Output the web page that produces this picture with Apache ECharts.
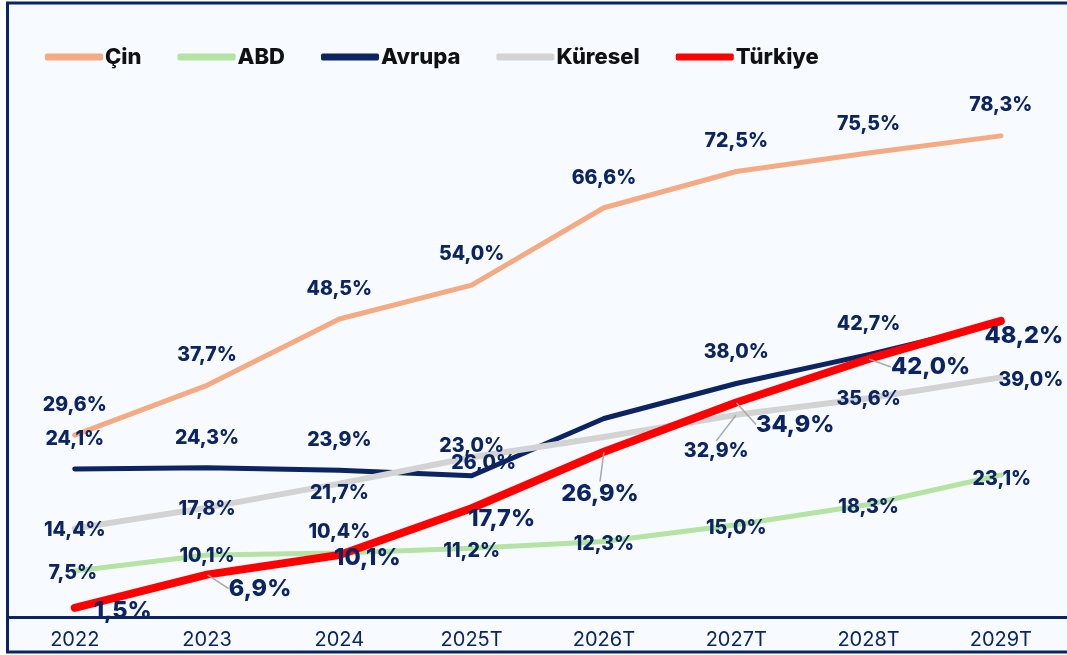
<!DOCTYPE html>
<html>
<head>
<meta charset="utf-8">
<script src="https://cdn.jsdelivr.net/npm/echarts@6/dist/echarts.min.js"></script>
<style>
	html, body { margin: 0; padding: 0; background: #ffffff; }
	#chart { width: 1067px; height: 655px; }
</style>
</head>
<body>
<div id="chart"></div>
<script>
var years = ['2022', '2023', '2024', '2025T', '2026T', '2027T', '2028T', '2029T'];

var cin = [29.6, 37.7, 48.5, 54.0, 66.6, 72.5, 75.5, 78.3];
var abd = [7.5, 10.1, 10.4, 11.2, 12.3, 15.0, 18.3, 23.1];
var avrupa = [24.1, 24.3, 23.9, 23.0, 32.3, 38.0, 42.7, 47.9];
var kuresel = [14.4, 17.8, 21.7, 26.0, 29.3, 32.9, 35.6, 39.0];
var turkiye = [1.5, 6.9, 10.1, 17.7, 26.9, 34.9, 42.0, 48.2];

// label nudges (dx, dy) per point, null = label hidden
var cinLabelPos = [[0, -30], [0, -30], [0, -30], [0, -31], [0, -30], [0, -30], [0, -29], [0, -31]];
var abdLabelPos = [[-2, 2], [0, 1], [0, -21], [0, 3], [0, 3], [0, 3], [0, 3], [1, 4]];
var avrupaLabelPos = [[0, -30], [0, -30], [0, -30], [0, -30], null, [0, -31], [0, -30], null];
var kureselLabelPos = [[0, 2], [0, 2], [0, 9], [12, 6], null, [-20, 36], [0, 1], [30, 3]];
var turkiyeLabelPos = [[48, 3], [53, 14], [28, 3], [30, 11], [-4, 42], [59, 22], [62, 8], [23, 15]];
var turkiyeLeader = [false, true, false, false, true, true, true, false];
var kureselLeader = [false, false, false, false, false, true, false, false];

var navy = '#0c2461';
var fontFamily = 'Inter, "Noto Sans", sans-serif';

var fmt = function (v) {
	return v.toFixed(1).replace('.', ',') + '%';
};

var buildData = function (values, labelPos, leader) {
	return values.map(function (v, i) {
		var item = { value: v };
		if (!labelPos[i]) {
			item.label = { show: false };
		}
		if (leader && leader[i]) {
			item.labelLine = { show: true };
		}
		return item;
	});
};

var makeSeries = function (name, values, color, width, labelPos, leader, fontSize) {
	return {
		name: name,
		type: 'line',
		data: buildData(values, labelPos, leader),
		symbol: 'circle',
		symbolSize: 1,
		itemStyle: { color: color },
		lineStyle: { color: color, width: width, cap: 'round', join: 'round' },
		label: {
			show: true,
			position: 'inside',
			color: navy,
			fontFamily: fontFamily,
			fontWeight: 800,
			fontSize: fontSize,
			formatter: function (p) { return fmt(p.value); }
		},
		labelLine: {
			show: false,
			lineStyle: { color: '#a8a8a8', width: 1.5 }
		},
		labelLayout: function (p) {
			var pos = labelPos[p.dataIndex];
			if (!pos) return {};
			return { dx: pos[0], dy: pos[1] };
		},
		emphasis: { disabled: true },
		animation: false
	};
};

var chart = echarts.init(document.getElementById('chart'));

chart.setOption({
	backgroundColor: '#ffffff',
	animation: false,
	graphic: [{
		type: 'rect',
		z: -10,
		shape: { x: 7.5, y: 3, width: 1075, height: 649 },
		style: { fill: '#f7fbff', stroke: navy, lineWidth: 3 }
	}],
	legend: {
		left: 40,
		top: 41,
		icon: 'roundRect',
		itemWidth: 58,
		itemHeight: 7,
		itemGap: 36,
		textStyle: {
			color: '#111111',
			fontFamily: fontFamily,
			fontWeight: 800,
			fontSize: 22,
			padding: [0, 0, 0, -3]
		},
		data: ['Çin', 'ABD', 'Avrupa', 'Küresel', 'Türkiye']
	},
	grid: {
		left: 8.6,
		right: -4.4,
		top: 64,
		bottom: 38
	},
	xAxis: {
		type: 'category',
		data: years,
		boundaryGap: true,
		axisLine: { show: true, lineStyle: { color: navy, width: 3 } },
		axisTick: { show: false },
		axisLabel: {
			color: navy,
			fontFamily: fontFamily,
			fontSize: 20,
			margin: 13
		}
	},
	yAxis: {
		type: 'value',
		min: 0,
		max: 90,
		show: false
	},
	series: [
		makeSeries('Çin', cin, '#f4aa82', 5, cinLabelPos, null, 19.5),
		makeSeries('ABD', abd, '#b5e3a3', 5, abdLabelPos, null, 19.5),
		makeSeries('Avrupa', avrupa, navy, 5, avrupaLabelPos, null, 19.5),
		makeSeries('Küresel', kuresel, '#d3d3d3', 6, kureselLabelPos, kureselLeader, 19.5),
		makeSeries('Türkiye', turkiye, '#ff0000', 8, turkiyeLabelPos, turkiyeLeader, 23.5)
	]
});
</script>
</body>
</html>
